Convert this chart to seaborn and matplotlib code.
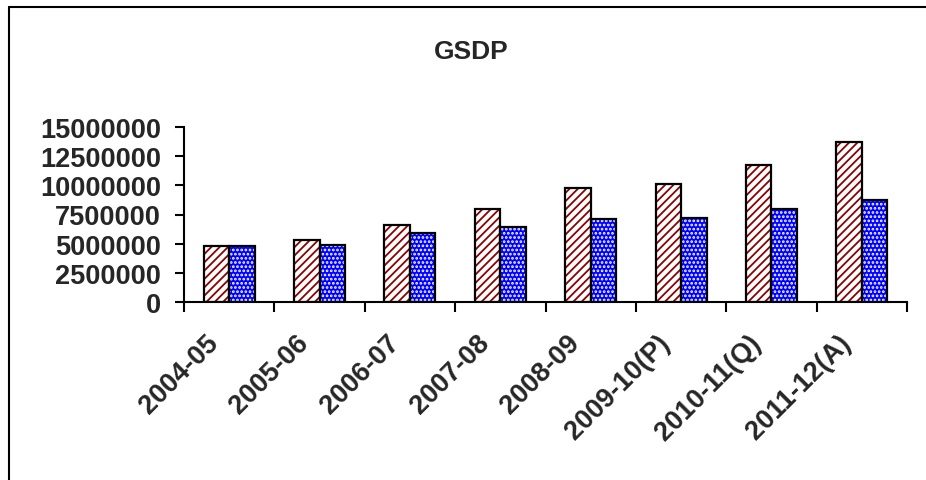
import numpy as np
import pandas as pd
import matplotlib
matplotlib.use("Agg")
import matplotlib.pyplot as plt
import matplotlib.transforms as mtransforms
from matplotlib.patches import Rectangle
from matplotlib.ticker import FuncFormatter, FixedLocator
import seaborn as sns

# GSDP values
years = ["2004-05", "2005-06", "2006-07", "2007-08", "2008-09",
         "2009-10(P)", "2010-11(Q)", "2011-12(A)"]
current_prices = [4780000, 5290000, 6640000, 8010000, 9730000,
                  10100000, 11770000, 13700000]
constant_prices = [4780000, 4920000, 5890000, 6470000, 7100000,
                   7240000, 7960000, 8740000]
series_names = ["Current prices", "Constant prices"]
y_ticks = [0, 2500000, 5000000, 7500000, 10000000, 12500000, 15000000]

df = pd.DataFrame({
    "Year": years * 2,
    "GSDP": current_prices + constant_prices,
    "Series": [series_names[0]] * len(years) + [series_names[1]] * len(years),
})

sns.set_style("white")
plt.rcParams["font.family"] = ["Liberation Sans", "DejaVu Sans"]
plt.rcParams["font.weight"] = "bold"
plt.rcParams["hatch.linewidth"] = 1.3

fig = plt.figure(figsize=(9.26, 4.81), dpi=100)
ax = fig.add_axes([184 / 926, 1 - 303 / 481, 723 / 926, 175 / 481])

sns.barplot(data=df, x="Year", y="GSDP", hue="Series", order=years,
            hue_order=series_names, palette=["white", "#0000FF"],
            width=0.565, errorbar=None, legend=False, ax=ax)

# Excel-like pattern fills: dark red stripes, blue with white dots
styles = {series_names[0]: ("white", "#8B0000", "////"),
          series_names[1]: ("#0000FF", "white", "....")}
bars = [p for p in ax.patches if p.get_height() > 0]
for i, p in enumerate(bars):
    face, hcol, hatch = styles[series_names[i // len(years)]]
    p.set_facecolor(face)
    p.set_edgecolor(hcol)
    p.set_hatch(hatch)
    p.set_linewidth(0)
    ax.add_patch(Rectangle(p.get_xy(), p.get_width(), p.get_height(),
                           fill=False, edgecolor="black", linewidth=1.6,
                           zorder=p.get_zorder() + 0.1))

ax.set_ylim(0, 15000000)
ax.set_xlim(-0.5, len(years) - 0.5)
ax.set_yticks(y_ticks)
ax.yaxis.set_major_formatter(FuncFormatter(lambda v, _: f"{v:.0f}"))

# ticks between categories, labels at category centres
ax.xaxis.set_major_locator(FixedLocator(np.arange(-0.5, len(years), 1.0)))
ax.xaxis.set_major_formatter(FuncFormatter(lambda v, _: ""))
ax.set_xticks(np.arange(len(years)), minor=True)
ax.set_xticklabels(years, minor=True)
ax.tick_params(axis="x", which="major", direction="out", length=7,
               width=1.5, color="black", bottom=True)
ax.tick_params(axis="x", which="minor", length=0, pad=20, labelsize=19.5)
ax.tick_params(axis="y", direction="out", length=6.5, width=1.5,
               color="black", left=True, pad=10, labelsize=19.5)

offset = mtransforms.ScaledTranslation(-24 / 100, 0, fig.dpi_scale_trans)
for lab in ax.get_xticklabels(minor=True):
    lab.set_rotation(45)
    lab.set_ha("right")
    lab.set_va("top")
    lab.set_rotation_mode("anchor")
    lab.set_fontweight("bold")
    lab.set_transform(lab.get_transform() + offset)
for lab in ax.get_yticklabels():
    lab.set_fontweight("bold")

ax.set_xlabel("")
ax.set_ylabel("")
for side in ["top", "right"]:
    ax.spines[side].set_visible(False)
for side in ["left", "bottom"]:
    ax.spines[side].set_linewidth(1.5)
    ax.spines[side].set_color("black")

fig.text(471.7 / 926, 1 - 51.7 / 481, "GSDP", ha="center", va="center",
         fontsize=19, fontweight="bold")

# chart-area border (top and left edges visible in the reference)
fig.add_artist(plt.Line2D([8.5 / 926, 8.5 / 926], [0, 1 - 7.5 / 481],
                          transform=fig.transFigure, color="black", lw=1.5))
fig.add_artist(plt.Line2D([8.5 / 926, 1], [1 - 7.5 / 481, 1 - 7.5 / 481],
                          transform=fig.transFigure, color="black", lw=1.5))

fig.savefig("out.png", dpi=100, facecolor="white")
